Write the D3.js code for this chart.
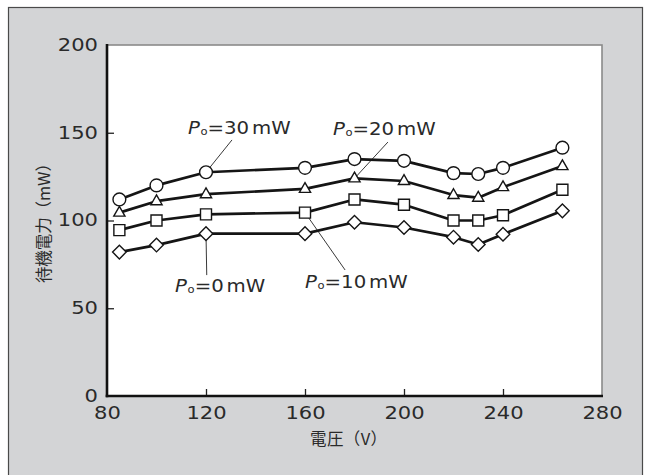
<!DOCTYPE html>
<html><head><meta charset="utf-8">
<script src="https://cdn.jsdelivr.net/npm/d3@7"></script>
<style>
html,body{margin:0;padding:0;background:#fff;}
svg{display:block;}
</style>
</head><body>
<svg id="chart" width="646" height="475"></svg>
<script>
// ---- data ----
const voltage = [85, 100, 120, 160, 180, 200, 220, 230, 240, 264];
const p30 = [112, 120, 127.5, 130, 135, 134, 127, 126.5, 130, 141.5];
const p20 = [104.5, 111, 115, 118, 124, 122.5, 114.5, 113, 119, 131];
const p10 = [94.5, 100, 103.5, 104.5, 112, 109, 100, 100, 103, 117.5];
const p0  = [82, 86, 92.5, 92.5, 99, 96, 90.5, 86.3, 92.2, 105.5];
const xTicks = [80, 120, 160, 200, 240, 280];
const yTicks = [0, 50, 100, 150, 200];
const seriesNames = ["30", "20", "10", "0"];
const xTitle = "電圧（V）";
const yTitle = "待機電力（mW）";

const svg = d3.select("#chart");
const W = 646, H = 475;
const plot = {left: 107, top: 45, right: 602, bottom: 396};
const numFont = "'DejaVu Sans', sans-serif";
const cjkFont = "'Noto Sans CJK JP', sans-serif";
const sx = 1.24; // horizontal stretch for wide numerals
const sxLab = 1.16;

// frame
svg.append("rect").attr("x", 8.5).attr("y", 7.5).attr("width", 634).attr("height", H)
  .attr("fill", "#d3d4d6").attr("stroke", "#4a4a4a").attr("stroke-width", 1.2);

const x = d3.scaleLinear().domain([80, 280]).range([plot.left, plot.right]);
const y = d3.scaleLinear().domain([0, 200]).range([plot.bottom, plot.top]);

// plot background
svg.append("rect").attr("x", plot.left).attr("y", plot.top)
  .attr("width", plot.right - plot.left).attr("height", plot.bottom - plot.top)
  .attr("fill", "#fff").attr("stroke", "#8a8a8a").attr("stroke-width", 1.6);

// axes
const yAxis = svg.append("g").attr("transform", `translate(${plot.left},0)`)
  .call(d3.axisLeft(y).tickValues(yTicks).tickSize(-7).tickPadding(9).tickFormat(d3.format("d")));
const xAxis = svg.append("g").attr("transform", `translate(0,${plot.bottom})`)
  .call(d3.axisBottom(x).tickValues(xTicks).tickSize(-7).tickPadding(11).tickFormat(d3.format("d")));
[xAxis, yAxis].forEach(a => {
  a.select(".domain").remove();
  a.selectAll("line").attr("stroke", "#222").attr("stroke-width", 1.3);
  a.selectAll("text").attr("fill", "#2a2a2a").style("font-family", numFont).style("font-size", "17px");
});
yAxis.selectAll(".tick").filter(d => d === 0 || d === 200).select("line").remove();
xAxis.selectAll(".tick").filter(d => d === 80 || d === 280).select("line").remove();
yAxis.selectAll("text").attr("x", -9 / sx).attr("transform", `scale(${sx},1)`);
xAxis.selectAll("text").attr("transform", `scale(${sx},1)`);

// thick axis lines
svg.append("line").attr("x1", plot.left).attr("x2", plot.left).attr("y1", plot.top - 1).attr("y2", plot.bottom + 1.3)
  .attr("stroke", "#111").attr("stroke-width", 2.6);
svg.append("line").attr("x1", plot.left - 1.3).attr("x2", plot.right + 1).attr("y1", plot.bottom).attr("y2", plot.bottom)
  .attr("stroke", "#111").attr("stroke-width", 2.6);

// titles
svg.append("text").attr("x", 310).attr("y", 445).attr("text-anchor", "start")
  .attr("textLength", 77).attr("lengthAdjust", "spacing")
  .style("font-family", cjkFont).style("font-size", "16.5px").attr("fill", "#2a2a2a").text(xTitle);
svg.append("text").attr("transform", "translate(43,283) rotate(-90)").attr("text-anchor", "start")
  .attr("dominant-baseline", "central").attr("textLength", 128).attr("lengthAdjust", "spacing")
  .style("font-family", cjkFont).style("font-size", "16.5px").attr("fill", "#2a2a2a").text(yTitle);

// annotations (label position in data units, leader end point = series point index)
const annotations = [
  {name: "30", tx: 112.7, ty: 149.3, lx: 130.5, ly: 145.9, series: p30, idx: 2},
  {name: "20", tx: 171.3, ty: 148.7, lx: 193.5, ly: 144.7, series: p20, idx: 4},
  {name: "10", tx: 160.0, ty: 61.7, lx: 176.2, ly: 71.8, series: p10, idx: 3},
  {name: "0",  tx: 107.5, ty: 59.2, lx: 120.3, ly: 68.9, series: p0,  idx: 2}
];
annotations.forEach(a => {
  svg.append("line").attr("x1", x(a.lx)).attr("y1", y(a.ly))
    .attr("x2", x(voltage[a.idx])).attr("y2", y(a.series[a.idx]))
    .attr("stroke", "#222").attr("stroke-width", 0.9);
  const g = svg.append("g").attr("transform", `translate(${x(a.tx)},${y(a.ty)}) scale(${sxLab},1)`);
  const t = g.append("text").attr("fill", "#2a2a2a").style("font-family", numFont).style("font-size", "17px");
  t.append("tspan").style("font-style", "italic").text("P");
  t.append("tspan").style("font-size", "10px").attr("dy", 1).attr("dx", 0.5).text("o");
  t.append("tspan").attr("dy", -1).text("=" + a.name);
  t.append("tspan").attr("dx", 2.5).text("mW");
});

// series
const seriesList = [
  {vals: p30, shape: "circle"},
  {vals: p20, shape: "triangle"},
  {vals: p10, shape: "square"},
  {vals: p0, shape: "diamond"}
];
const line = d3.line().x((d, i) => x(voltage[i])).y(d => y(d));
seriesList.forEach(s => {
  svg.append("path").attr("d", line(s.vals)).attr("fill", "none")
    .attr("stroke", "#151515").attr("stroke-width", 2.7).attr("stroke-linejoin", "round");
});
const symbolPath = {
  circle: () => d3.symbol().type(d3.symbolCircle).size(Math.PI * 6.4 * 6.4)(),
  square: () => d3.symbol().type(d3.symbolSquare).size(11 * 11)(),
  triangle: () => "M0,-6.3L5.6,3.5L-5.6,3.5Z",
  diamond: () => "M0,-6.8L6.8,0L0,6.8L-6.8,0Z"
};
seriesList.forEach(s => {
  svg.append("g").selectAll("path").data(s.vals).join("path")
    .attr("transform", (d, i) => `translate(${x(voltage[i])},${y(d)})`)
    .attr("d", symbolPath[s.shape]())
    .attr("fill", "#fff").attr("stroke", "#151515").attr("stroke-width", 1.4);
});
</script>
</body></html>
